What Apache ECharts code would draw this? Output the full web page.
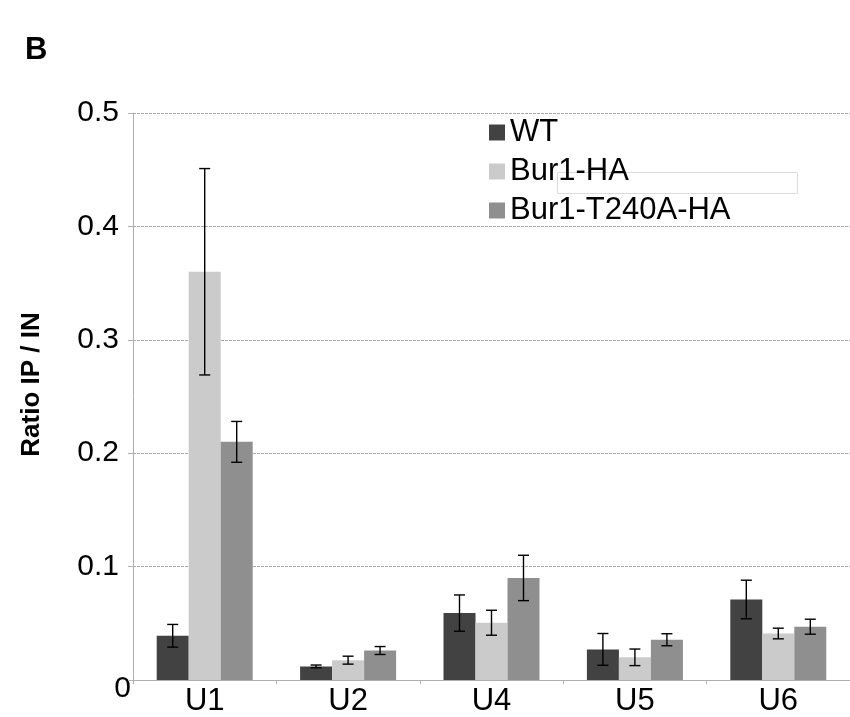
<!DOCTYPE html>
<html>
<head>
<meta charset="utf-8">
<script src="https://cdn.jsdelivr.net/npm/echarts@6/dist/echarts.min.js"></script>
<style>
html,body{margin:0;padding:0;background:#fff;}
#chart{width:850px;height:717px;}
</style>
</head>
<body>
<div id="chart"></div>
<script>
// ---- data ----
var categories = ['U1', 'U2', 'U4', 'U5', 'U6'];
var seriesNames = ['WT', 'Bur1-HA', 'Bur1-T240A-HA'];
var wt = [0.039, 0.012, 0.059, 0.027, 0.071];
var wtErr = [0.010, 0.0012, 0.016, 0.014, 0.017];
var bur1 = [0.360, 0.0175, 0.0505, 0.020, 0.041];
var bur1Err = [0.091, 0.0035, 0.011, 0.0073, 0.0047];
var t240a = [0.210, 0.026, 0.090, 0.0355, 0.047];
var t240aErr = [0.018, 0.0035, 0.020, 0.0053, 0.0066];
var yTicks = [0, 0.1, 0.2, 0.3, 0.4, 0.5];

// ---- style ----
var colors = ['#424242', '#cbcbcb', '#8f8f8f'];
var BAR_W = 32;
var GRID_LEFT = 133;
var FONT = '"Liberation Sans", Arial, Helvetica, sans-serif';

var chart = echarts.init(document.getElementById('chart'), null, {renderer: 'canvas'});

var values = [wt, bur1, t240a];
var errs = [wtErr, bur1Err, t240aErr];

function errSeries(idx) {
  var data = categories.map(function (c, i) { return [i, values[idx][i], errs[idx][i]]; });
  return {
    type: 'custom',
    name: seriesNames[idx] + ' err',
    z: 5,
    silent: true,
    data: data,
    encode: {x: 0, y: 1},
    renderItem: function (params, api) {
      var ci = api.value(0), v = api.value(1), e = api.value(2);
      var off = (idx - 1) * BAR_W;
      var top = api.coord([ci, v + e]);
      var bot = api.coord([ci, v - e]);
      var x = top[0] + off;
      var cap = 5.5;
      var st = {stroke: '#000', lineWidth: 1.4};
      return {
        type: 'group',
        children: [
          {type: 'line', shape: {x1: x, y1: top[1], x2: x, y2: bot[1]}, style: st},
          {type: 'line', shape: {x1: x - cap, y1: top[1], x2: x + cap, y2: top[1]}, style: st},
          {type: 'line', shape: {x1: x - cap, y1: bot[1], x2: x + cap, y2: bot[1]}, style: st}
        ]
      };
    }
  };
}

var barSeries = seriesNames.map(function (n, i) {
  return {
    type: 'bar',
    name: n,
    data: values[i],
    barWidth: BAR_W,
    barGap: '0%',
    itemStyle: {color: colors[i]},
    z: 2
  };
});

var option = {
  animation: false,
  backgroundColor: '#ffffff',
  title: {
    text: 'B',
    left: 25,
    top: 35,
    padding: 0,
    textStyle: {fontFamily: FONT, fontSize: 31, fontWeight: 'bold', color: '#000'}
  },
  legend: {
    orient: 'vertical',
    left: 489,
    top: 117,
    padding: 0,
    itemWidth: 16,
    itemHeight: 16,
    itemGap: 8,
    icon: 'rect',
    data: seriesNames,
    textStyle: {fontFamily: FONT, fontSize: 31, color: '#000'}
  },
  grid: {left: GRID_LEFT, right: -10, top: 113, bottom: 34, containLabel: false},
  xAxis: {
    type: 'category',
    data: categories,
    axisLine: {lineStyle: {color: '#b0b0b0', width: 1}},
    axisTick: {show: true, length: 4, lineStyle: {color: '#b0b0b0'}},
    axisLabel: {fontFamily: FONT, fontSize: 31, color: '#000', margin: 6}
  },
  yAxis: {
    type: 'value',
    min: yTicks[0],
    max: yTicks[yTicks.length - 1],
    interval: 0.1,
    name: 'Ratio IP / IN',
    nameLocation: 'middle',
    nameRotate: 90,
    nameGap: 88,
    nameTextStyle: {fontFamily: FONT, fontSize: 26, fontWeight: 'bold', color: '#000', padding: [0, 0, 0, 24]},
    axisLine: {show: true, lineStyle: {color: '#b0b0b0', width: 1}},
    axisTick: {show: true, length: 5, lineStyle: {color: '#b0b0b0'}},
    axisLabel: {
      fontFamily: FONT, fontSize: 30, color: '#000', margin: 14,
      formatter: function (v) { return v === 0 ? '' : v.toFixed(1); }
    },
    splitLine: {show: true, lineStyle: {color: '#a8a8a8', width: 1, type: [3, 1]}}
  },
  series: barSeries.concat([errSeries(0), errSeries(1), errSeries(2)])
};

chart.setOption(option);

// zero label of the y axis, placed from the axis scale
var zeroY = chart.convertToPixel({yAxisIndex: 0}, yTicks[0]);
chart.setOption({
  graphic: [
    {
      type: 'text',
      x: GRID_LEFT - 2,
      y: zeroY + 9,
      style: {text: String(yTicks[0]), fontFamily: FONT, fontSize: 30, fill: '#000', align: 'right', verticalAlign: 'middle'}
    },
    {
      type: 'rect',
      left: 555,
      top: 170,
      shape: {width: 240, height: 21},
      style: {fill: 'none', stroke: '#dcdcdc', lineWidth: 1},
      z: 1
    }
  ]
});
</script>
</body>
</html>
